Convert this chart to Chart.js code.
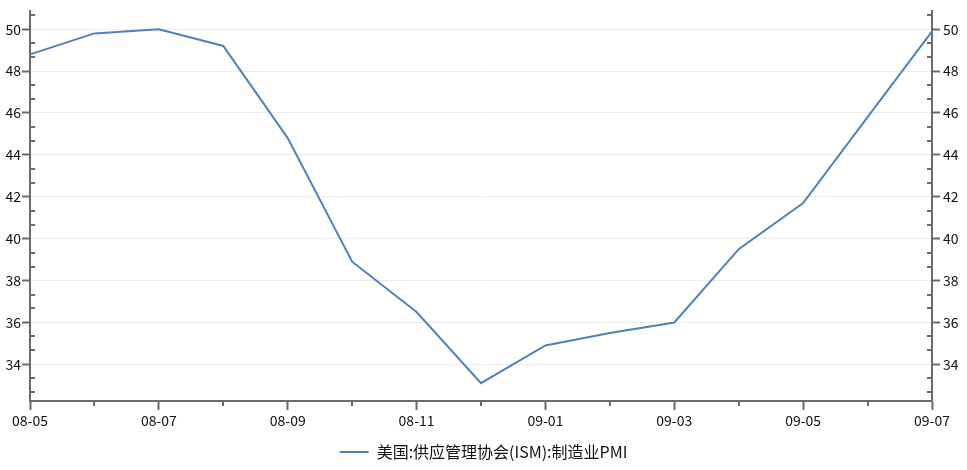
<!DOCTYPE html>
<html>
<head>
<meta charset="utf-8">
<script src="https://cdn.jsdelivr.net/npm/chart.js@4/dist/chart.umd.min.js"></script>
<style>
  html, body { margin: 0; padding: 0; background: #fff; }
  #wrap { width: 967px; height: 470px; }
</style>
</head>
<body>
<div id="wrap"><canvas id="chart" width="967" height="470"></canvas></div>
<script>
// data
const months = ["08-05", "08-06", "08-07", "08-08", "08-09", "08-10", "08-11", "08-12",
  "09-01", "09-02", "09-03", "09-04", "09-05", "09-06", "09-07"];
const pmi = [48.8, 49.8, 50.0, 49.2, 44.8, 38.9, 36.5, 33.1, 34.9, 35.5, 36.0, 39.5, 41.7, 45.8, 49.9];
const seriesName = "美国:供应管理协会(ISM):制造业PMI";
const yMin = 32.25, yMax = 50.85;

const axisColor = "#6b6b6b";
const lineColor = "#4f81bd";
const font = { family: "'Noto Sans CJK SC', 'DejaVu Sans', sans-serif", size: 14 };

function keepEven(scale) {
  scale.ticks = scale.ticks.filter(t => Math.abs(t.value - Math.round(t.value)) < 1e-6 && Math.round(t.value) % 2 === 0);
}

// short inner ticks between the labelled ones
const minorTicks = {
  id: "minorTicks",
  afterDraw(chart) {
    const ctx = chart.ctx;
    const x = chart.scales.x, yl = chart.scales.y, yr = chart.scales.y2;
    ctx.save();
    ctx.strokeStyle = axisColor;
    ctx.lineWidth = 2;
    ctx.beginPath();
    for (let v = 34 - 4 / 3; v < yMax; v += 2 / 3) {
      const r = Math.round(v * 3) / 3;
      if (Math.abs(r - Math.round(r)) < 1e-6 && Math.round(r) % 2 === 0) continue;
      if (r < yMin) continue;
      const py = Math.round(yl.getPixelForValue(r));
      ctx.moveTo(yl.right, py); ctx.lineTo(yl.right + 5, py);
      ctx.moveTo(yr.left, py); ctx.lineTo(yr.left - 5, py);
    }
    months.forEach((m, i) => {
      if (i % 2 === 0) return;
      const px = Math.round(x.getPixelForValue(i));
      ctx.moveTo(px, x.top); ctx.lineTo(px, x.top + 5);
    });
    ctx.stroke();
    ctx.restore();
  }
};

new Chart(document.getElementById("chart"), {
  type: "line",
  data: {
    labels: months,
    datasets: [{
      label: seriesName,
      data: pmi,
      borderColor: lineColor,
      backgroundColor: lineColor,
      borderWidth: 2,
      pointRadius: 0,
      tension: 0,
      yAxisID: "y"
    }]
  },
  options: {
    responsive: false,
    animation: false,
    layout: { padding: { top: 11, left: 0, right: 0, bottom: 0 } },
    plugins: {
      tooltip: { enabled: false },
      legend: {
        position: "bottom",
        labels: {
          color: "#111",
          font: { family: font.family, size: 16 },
          boxWidth: 29,
          boxHeight: 2,
          padding: 10,
          generateLabels: chart => chart.data.datasets.map((ds, i) => ({
            text: ds.label,
            fillStyle: ds.borderColor,
            strokeStyle: ds.borderColor,
            lineWidth: 0,
            fontColor: "#111",
            datasetIndex: i
          }))
        }
      }
    },
    scales: {
      x: {
        offset: false,
        afterFit: s => { s.height = 33; },
        grid: {
          drawOnChartArea: false,
          tickLength: 9,
          tickWidth: 2,
          tickColor: c => (c.index % 2 === 0 ? axisColor : "rgba(0,0,0,0)")
        },
        border: { color: axisColor, width: 2 },
        ticks: {
          autoSkip: false,
          maxRotation: 0,
          color: "#111",
          font: font,
          padding: 2,
          callback: (v, i) => (i % 2 === 0 ? months[i] : "")
        }
      },
      y: {
        position: "left",
        min: yMin,
        max: yMax,
        afterBuildTicks: keepEven,
        afterFit: s => { s.width = 30; },
        grid: { color: "#ebebeb", lineWidth: 1, tickLength: 8, tickWidth: 2, tickColor: axisColor },
        border: { color: axisColor, width: 2 },
        ticks: { color: "#111", font: font, padding: 1, callback: v => v }
      },
      y2: {
        position: "right",
        min: yMin,
        max: yMax,
        afterBuildTicks: keepEven,
        afterFit: s => { s.width = 35; },
        grid: { drawOnChartArea: false, tickLength: 8, tickWidth: 2, tickColor: axisColor },
        border: { color: axisColor, width: 2 },
        ticks: { color: "#111", font: font, padding: 3, callback: v => v }
      }
    }
  },
  plugins: [minorTicks]
});
</script>
</body>
</html>
